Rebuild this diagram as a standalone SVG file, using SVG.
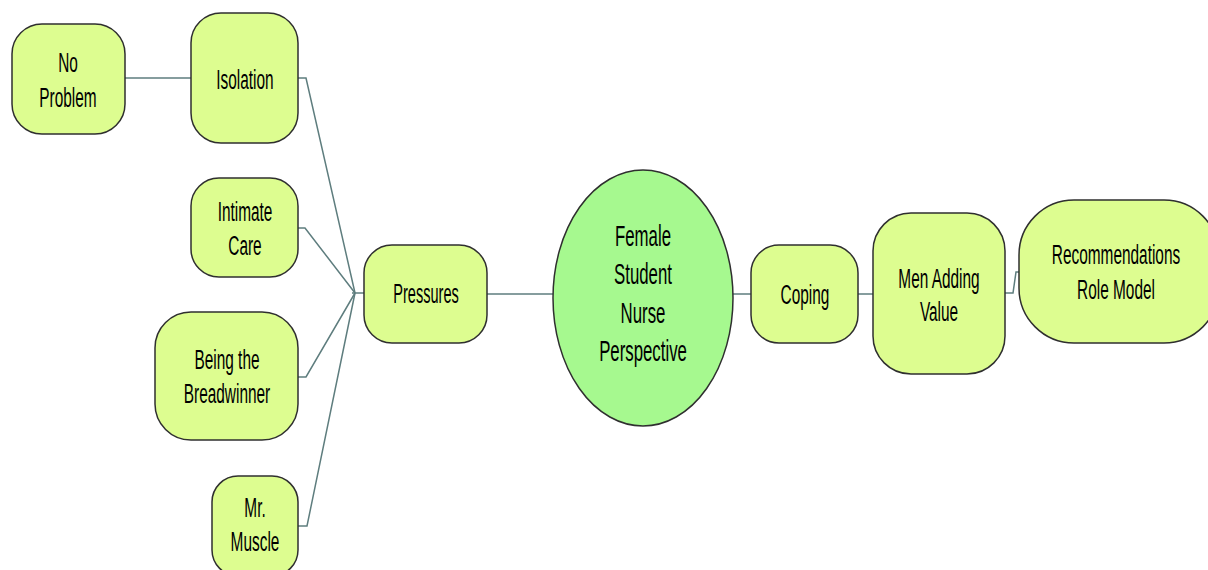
<svg xmlns="http://www.w3.org/2000/svg" width="1208" height="570" viewBox="0 0 1208 570">
<style>
.n{fill:#DDFD90;stroke:#2F2F2F;stroke-width:1.5}
.c{fill:#A6F98F;stroke:#2F2F2F;stroke-width:1.5}
.t{font-family:"Liberation Sans",Arial,sans-serif;font-size:28px;fill:#000;text-anchor:middle}
.e{font-size:30px}
.l{fill:none;stroke:#5E7D7E;stroke-width:1.5}
</style>
<rect width="1208" height="570" fill="#fff"/>
<g id="connectors">
<path class="l" d="M125,78 H191" stroke-width="3" stroke="#7D9696"/>
<path class="l" d="M298,78 H306 L355,293"/>
<path class="l" d="M298,228 H305 L355,293"/>
<path class="l" d="M298,377 H306 L355,293"/>
<path class="l" d="M298,526 H307 L355,293"/>
<path class="l" d="M352,293 H364" stroke-width="2.5"/>
<path class="l" d="M487,294 H553" stroke-width="2.5" stroke="#7D9696"/>
<path class="l" d="M733,294 H751" stroke-width="2.5" stroke="#7D9696"/>
<path class="l" d="M858,294 H873" stroke-width="2.5" stroke="#7D9696"/>
<path class="l" d="M1005,293 H1013 L1016,272 H1020" stroke-width="2"/>
</g>
<g id="no-problem"><rect class="n" x="12" y="24" width="113" height="110" rx="30"/>
<text class="t" transform="translate(68,72) scale(0.55,1)">No</text>
<text class="t" transform="translate(68,107) scale(0.55,1)">Problem</text></g>
<g id="isolation"><rect class="n" x="191" y="13" width="107" height="130" rx="30"/>
<text class="t" transform="translate(245,89) scale(0.55,1)">Isolation</text></g>
<g id="intimate-care"><rect class="n" x="191" y="178" width="107" height="99" rx="28"/>
<text class="t" transform="translate(245,221) scale(0.55,1)">Intimate</text>
<text class="t" transform="translate(245,255) scale(0.55,1)">Care</text></g>
<g id="breadwinner"><rect class="n" x="155" y="312" width="143" height="128" rx="36"/>
<text class="t" transform="translate(227,369) scale(0.55,1)">Being the</text>
<text class="t" transform="translate(227,403) scale(0.55,1)">Breadwinner</text></g>
<g id="mr-muscle"><rect class="n" x="212" y="476" width="86" height="100" rx="26"/>
<text class="t" transform="translate(255,517) scale(0.55,1)">Mr.</text>
<text class="t" transform="translate(255,551) scale(0.55,1)">Muscle</text></g>
<g id="pressures"><rect class="n" x="364" y="245" width="123" height="98" rx="28"/>
<text class="t" transform="translate(426,303) scale(0.52,1)">Pressures</text></g>
<g id="female-student-nurse"><ellipse class="c" cx="643" cy="298" rx="90" ry="128"/>
<text class="t e" transform="translate(643,246) scale(0.56,1)">Female</text>
<text class="t e" transform="translate(643,284) scale(0.56,1)">Student</text>
<text class="t e" transform="translate(643,323) scale(0.56,1)">Nurse</text>
<text class="t e" transform="translate(643,361) scale(0.56,1)">Perspective</text></g>
<g id="coping"><rect class="n" x="751" y="245" width="107" height="98" rx="28"/>
<text class="t" transform="translate(805,304) scale(0.55,1)">Coping</text></g>
<g id="men-adding-value"><rect class="n" x="873" y="213" width="132" height="161" rx="38"/>
<text class="t" transform="translate(939,288) scale(0.55,1)">Men Adding</text>
<text class="t" transform="translate(939,321) scale(0.55,1)">Value</text></g>
<g id="recommendations"><rect class="n" x="1019" y="200" width="200" height="143" rx="55"/>
<text class="t" transform="translate(1116,264) scale(0.55,1)">Recommendations</text>
<text class="t" transform="translate(1116,299) scale(0.55,1)">Role Model</text></g>
</svg>
